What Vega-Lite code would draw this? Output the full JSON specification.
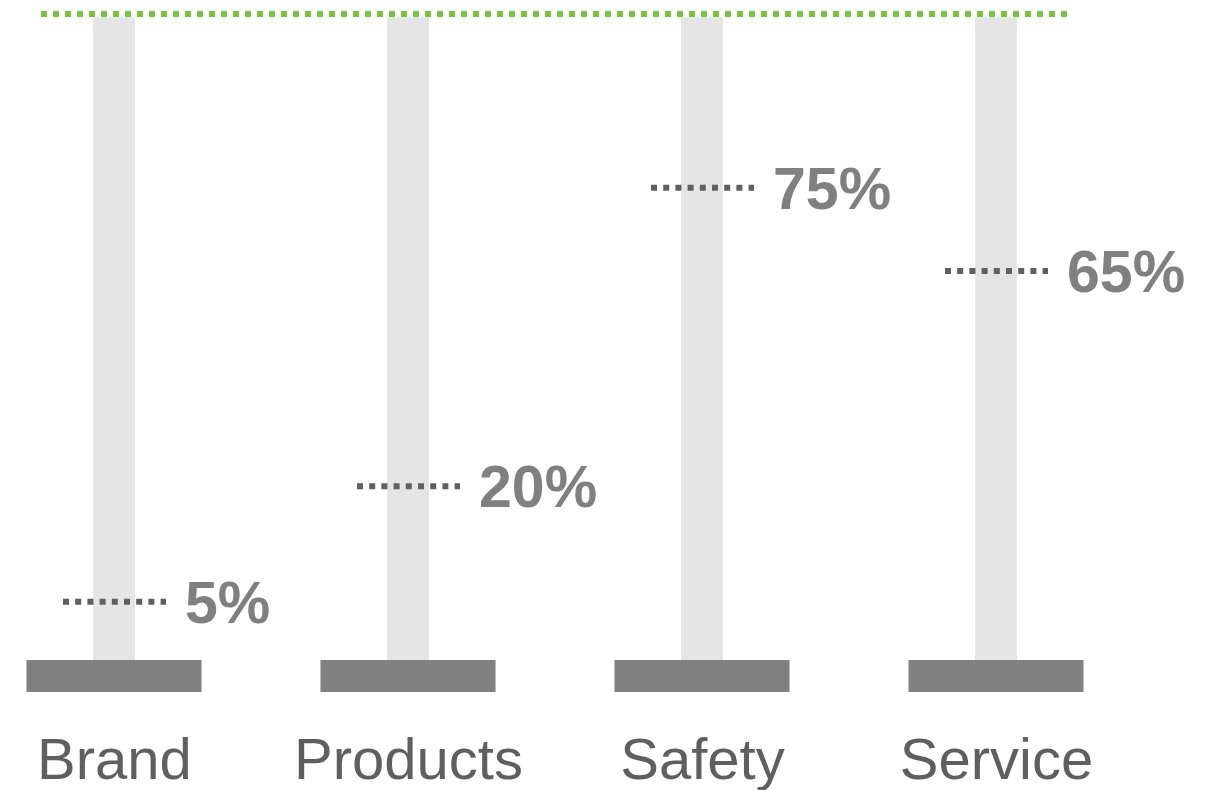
{
  "$schema": "https://vega.github.io/schema/vega-lite/v6.json",
  "width": 1218,
  "height": 692,
  "autosize": {"type": "none"},
  "padding": {"left": 0, "top": 0, "right": 0, "bottom": 98},
  "background": "white",
  "config": {"view": {"stroke": null}},
  "data": {
    "values": [
      {"category": "Brand", "pct": 0.05, "level": 9.0},
      {"category": "Products", "pct": 0.20, "level": 26.9},
      {"category": "Safety", "pct": 0.75, "level": 73.1},
      {"category": "Service", "pct": 0.65, "level": 60.2}
    ]
  },
  "encoding": {
    "x": {
      "field": "category",
      "type": "nominal",
      "sort": null,
      "scale": {"type": "point", "range": [114, 996], "padding": 0},
      "axis": {
        "title": null,
        "domain": false,
        "ticks": false,
        "tickSize": 0,
        "labelPadding": 86,
        "labelBaseline": "alphabetic",
        "labelFontSize": 58,
        "labelFont": "Liberation Sans",
        "labelColor": "#5f5f5f",
        "labelAngle": 0,
        "labelLimit": 0,
        "grid": false
      }
    }
  },
  "layer": [
    {
      "mark": {"type": "bar", "width": 42, "color": "#e5e5e5"},
      "encoding": {
        "y": {"datum": 0, "type": "quantitative", "scale": {"domain": [-4.954, 102.167], "nice": false, "zero": false}, "axis": null},
        "y2": {"datum": 99.5}
      }
    },
    {
      "mark": {"type": "bar", "width": 175, "color": "#808080"},
      "encoding": {
        "y": {"datum": 0, "type": "quantitative"},
        "y2": {"datum": -4.954}
      }
    },
    {
      "mark": {"type": "rule", "color": "#7dc142", "strokeWidth": 6, "strokeDash": [6, 6], "strokeCap": "butt", "xOffset": -73, "x2Offset": 71},
      "encoding": {
        "x": {"datum": "Brand"},
        "x2": {"datum": "Service"},
        "y": {"datum": 100, "type": "quantitative"}
      }
    },
    {
      "mark": {"type": "rule", "color": "#5f5f5f", "strokeWidth": 6, "strokeDash": [6, 6.2], "strokeCap": "butt", "xOffset": -51, "x2Offset": 52},
      "encoding": {
        "x2": {"field": "category"},
        "y": {"field": "level", "type": "quantitative"}
      }
    },
    {
      "mark": {"type": "text", "align": "left", "baseline": "alphabetic", "dx": 71, "dy": 21, "font": "Liberation Sans", "fontWeight": "bold", "fontSize": 59, "color": "#808080"},
      "encoding": {
        "y": {"field": "level", "type": "quantitative"},
        "text": {"field": "pct", "type": "quantitative", "format": ".0%"}
      }
    }
  ]
}
